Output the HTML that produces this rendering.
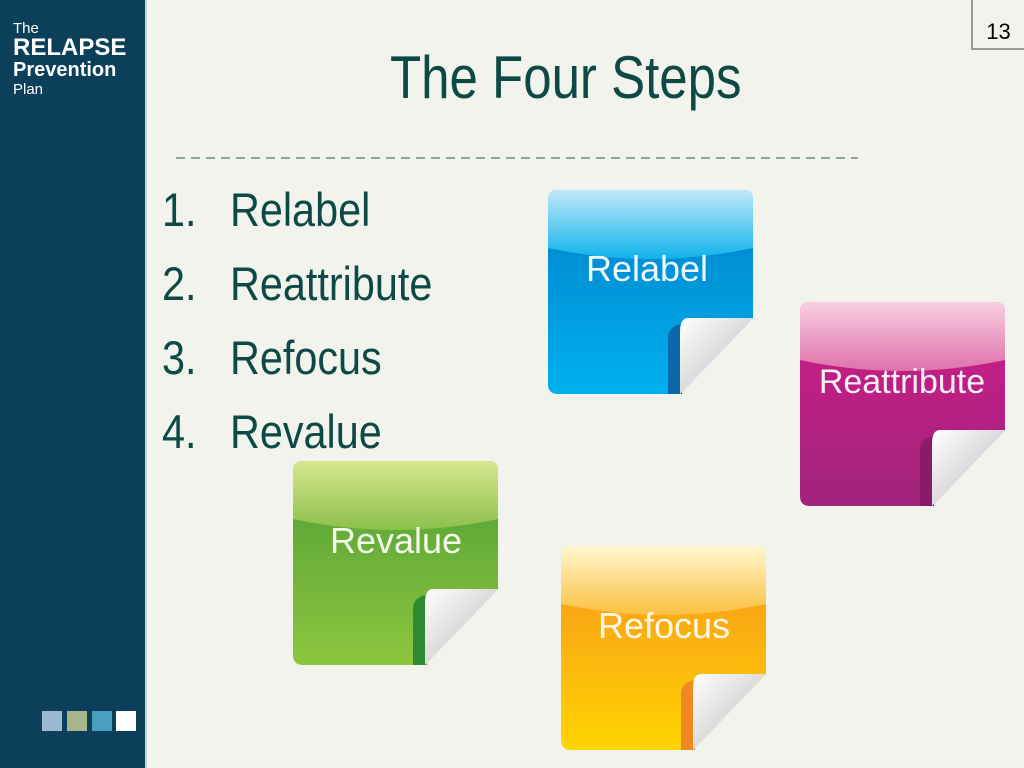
<!DOCTYPE html>
<html><head><meta charset="utf-8"><style>
body{margin:0;width:1024px;height:768px;overflow:hidden;background:#f3f3ee;font-family:"Liberation Sans",sans-serif;position:relative}
.side{position:absolute;left:0;top:0;width:145px;height:768px;background:#0b3f5a;border-right:2px solid #c9d2d4}
.logo{position:absolute;left:13px;color:#fff;line-height:1}
.sq{position:absolute;top:711px;width:20px;height:20px}
.t{position:absolute;color:#0d4a45;transform-origin:0 0;white-space:nowrap}
.pg{position:absolute;left:971px;top:-2px;width:53px;height:52px;border:2px solid #999;border-right:none;background:#f3f3ee;font-size:22px;text-align:center;line-height:64px;box-sizing:border-box}
svg{position:absolute}
</style></head><body>
<div class="side">
<div class="logo" style="top:21px;font-size:15px">The</div>
<div class="logo" style="top:36px;font-size:24px;font-weight:bold">RELAPSE</div>
<div class="logo" style="top:60px;font-size:20px;font-weight:bold">Prevention</div>
<div class="logo" style="top:82px;font-size:15px">Plan</div>
<div class="sq" style="left:42px;background:#9cb9d4"></div>
<div class="sq" style="left:67px;background:#a8b48a"></div>
<div class="sq" style="left:92px;background:#4a9ec0"></div>
<div class="sq" style="left:116px;background:#fff"></div>
</div>
<div class="pg">13</div>
<div class="t" style="left:390px;top:43px;font-size:60px;transform:scaleX(.85)">The Four Steps</div>
<svg style="left:0;top:0" width="1024" height="768"><line x1="176" y1="158" x2="858" y2="158" stroke="#8fa6a6" stroke-width="2" stroke-dasharray="9,6"/></svg>
<div class="t" style="left:162px;top:182px;font-size:47px;transform:scaleX(.88)">1.</div>
<div class="t" style="left:230px;top:182px;font-size:47px;transform:scaleX(.88)">Relabel</div>
<div class="t" style="left:162px;top:256px;font-size:47px;transform:scaleX(.88)">2.</div>
<div class="t" style="left:230px;top:256px;font-size:47px;transform:scaleX(.88)">Reattribute</div>
<div class="t" style="left:162px;top:330px;font-size:47px;transform:scaleX(.88)">3.</div>
<div class="t" style="left:230px;top:330px;font-size:47px;transform:scaleX(.88)">Refocus</div>
<div class="t" style="left:162px;top:404px;font-size:47px;transform:scaleX(.88)">4.</div>
<div class="t" style="left:230px;top:404px;font-size:47px;transform:scaleX(.88)">Revalue</div>

<svg width="0" height="0"><defs>
<linearGradient id="curl" x1="0" y1="0" x2="1" y2="1"><stop offset="0" stop-color="#fff"/><stop offset="1" stop-color="#b8b8bc"/></linearGradient>
<linearGradient id="bB" x1="0" y1="0" x2="0" y2="1"><stop offset="0" stop-color="#0080c8"/><stop offset="1" stop-color="#00b0ee"/></linearGradient>
<linearGradient id="gB" x1="0" y1="0" x2="0" y2="1"><stop offset="0" stop-color="#c0e8f8"/><stop offset="1" stop-color="#10b4ec"/></linearGradient>
<linearGradient id="bP" x1="0" y1="0" x2="0" y2="1"><stop offset="0" stop-color="#d01c88"/><stop offset="1" stop-color="#a0247c"/></linearGradient>
<linearGradient id="gP" x1="0" y1="0" x2="0" y2="1"><stop offset="0" stop-color="#f8d0e2"/><stop offset="1" stop-color="#e070aa"/></linearGradient>
<linearGradient id="bG" x1="0" y1="0" x2="0" y2="1"><stop offset="0" stop-color="#4f9e34"/><stop offset="1" stop-color="#8cc63f"/></linearGradient>
<linearGradient id="gG" x1="0" y1="0" x2="0" y2="1"><stop offset="0" stop-color="#d8e890"/><stop offset="1" stop-color="#8cc04a"/></linearGradient>
<linearGradient id="bO" x1="0" y1="0" x2="0" y2="1"><stop offset="0" stop-color="#f7941d"/><stop offset="1" stop-color="#ffd400"/></linearGradient>
<linearGradient id="gO" x1="0" y1="0" x2="0" y2="1"><stop offset="0" stop-color="#fff6d0"/><stop offset="1" stop-color="#fbc040"/></linearGradient>
<clipPath id="cl"><path d="M10,0 H195 Q205,0 205,10 V128 L132,204 H10 Q0,204 0,194 V10 Q0,0 10,0 Z"/></clipPath>
</defs></svg>

<svg style="left:548px;top:190px" width="206" height="206">
<path d="M10,0 H195 Q205,0 205,10 V128 L132,204 H10 Q0,204 0,194 V10 Q0,0 10,0 Z" fill="url(#bB)"/>
<path clip-path="url(#cl)" d="M0,0 H205 V58 Q102,80 0,58 Z" fill="url(#gB)"/>
<path d="M120,204 V148 Q120,136 134,134 V204 Z" fill="#0a68a8"/>
<path d="M140,128 H205 L132,204 V142 Q132,128 140,128 Z" fill="url(#curl)"/>
<text x="99" y="91" fill="#eef8fc" font-size="36" text-anchor="middle">Relabel</text>
</svg>
<svg style="left:800px;top:302px" width="206" height="206">
<path d="M10,0 H195 Q205,0 205,10 V128 L132,204 H10 Q0,204 0,194 V10 Q0,0 10,0 Z" fill="url(#bP)"/>
<path clip-path="url(#cl)" d="M0,0 H205 V58 Q102,80 0,58 Z" fill="url(#gP)"/>
<path d="M120,204 V148 Q120,136 134,134 V204 Z" fill="#8a1a6a"/>
<path d="M140,128 H205 L132,204 V142 Q132,128 140,128 Z" fill="url(#curl)"/>
<text x="102" y="91" fill="#fbeef6" font-size="34" text-anchor="middle">Reattribute</text>
</svg>
<svg style="left:293px;top:461px" width="206" height="206">
<path d="M10,0 H195 Q205,0 205,10 V128 L132,204 H10 Q0,204 0,194 V10 Q0,0 10,0 Z" fill="url(#bG)"/>
<path clip-path="url(#cl)" d="M0,0 H205 V58 Q102,80 0,58 Z" fill="url(#gG)"/>
<path d="M120,204 V148 Q120,136 134,134 V204 Z" fill="#2e8a30"/>
<path d="M140,128 H205 L132,204 V142 Q132,128 140,128 Z" fill="url(#curl)"/>
<text x="103" y="92" fill="#f4faea" font-size="36" text-anchor="middle">Revalue</text>
</svg>
<svg style="left:561px;top:546px" width="206" height="206">
<path d="M10,0 H195 Q205,0 205,10 V128 L132,204 H10 Q0,204 0,194 V10 Q0,0 10,0 Z" fill="url(#bO)"/>
<path clip-path="url(#cl)" d="M0,0 H205 V58 Q102,80 0,58 Z" fill="url(#gO)"/>
<path d="M120,204 V148 Q120,136 134,134 V204 Z" fill="#f08a20"/>
<path d="M140,128 H205 L132,204 V142 Q132,128 140,128 Z" fill="url(#curl)"/>
<text x="103" y="92" fill="#fff8e8" font-size="36" text-anchor="middle">Refocus</text>
</svg>
</body></html>
